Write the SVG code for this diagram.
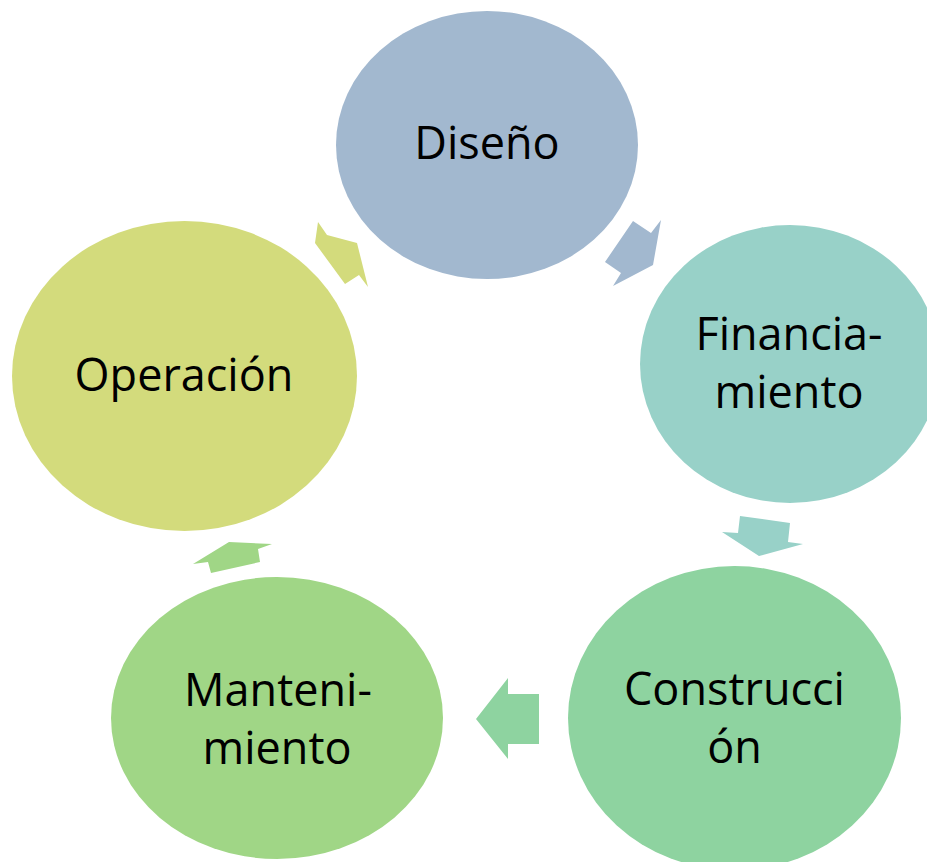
<svg xmlns="http://www.w3.org/2000/svg" width="927" height="862" viewBox="0 0 927 862">
<style>
  .lbl { font-family: "Open Sans", "Liberation Sans", sans-serif; font-size: 45px; fill: #000; text-anchor: middle; }
  .c1 { fill: #A2B8CF; }
  .c2 { fill: #98D1C8; }
  .c3 { fill: #8ED3A0; }
  .c4 { fill: #A0D686; }
  .c5 { fill: #D3DB7C; }
</style>
<rect width="927" height="862" fill="#FFFFFF"/>
<g id="connectors">
  <polygon class="c1" points="633,221 651,233 661,220 653,265 613,286 621,273 605,262"/>
  <polygon class="c2" points="740,516 790,523 788,542 803,544 759,556 722,532 738,533"/>
  <polygon class="c3" points="508,678 508,694 539,694 539,744 508,744 508,759 476,719"/>
  <polygon class="c4" points="193,564 229,542 272,544 258,549 260,562 211,573 208,562"/>
  <polygon class="c5" points="318,222 327,235 357,243 368,287 359,275 345,284 315,243"/>
</g>
<g id="diseno">
  <ellipse class="c1" cx="487" cy="145" rx="151" ry="134"/>
  <text class="lbl" x="487" y="159">Diseño</text>
</g>
<g id="financiamiento">
  <ellipse class="c2" cx="790" cy="364" rx="150" ry="139"/>
  <text class="lbl" x="789" y="350">Financia-</text>
  <text class="lbl" x="789" y="408">miento</text>
</g>
<g id="construccion">
  <ellipse class="c3" cx="734.5" cy="718" rx="166.5" ry="152"/>
  <text class="lbl" x="734.5" y="705">Construcci</text>
  <text class="lbl" x="734.5" y="763">ón</text>
</g>
<g id="mantenimiento">
  <ellipse class="c4" cx="277" cy="718" rx="166" ry="141"/>
  <text class="lbl" x="278" y="706">Manteni-</text>
  <text class="lbl" x="277" y="764">miento</text>
</g>
<g id="operacion">
  <ellipse class="c5" cx="184.5" cy="376" rx="172.5" ry="155"/>
  <text class="lbl" x="184" y="391">Operación</text>
</g>
</svg>
